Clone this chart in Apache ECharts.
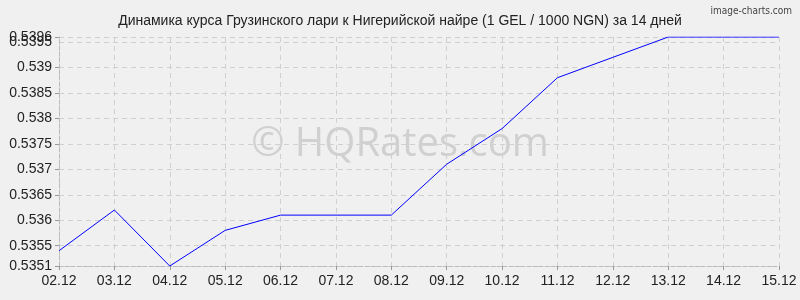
<!DOCTYPE html>
<html><head><meta charset="utf-8">
<script src="https://cdn.jsdelivr.net/npm/echarts@6/dist/echarts.min.js"></script>
<style>html,body{margin:0;padding:0;background:#f0f0f0}#c{width:800px;height:300px}</style>
</head><body><div id="c"></div>
<script>
const categories = ['02.12','03.12','04.12','05.12','06.12','07.12','08.12','09.12','10.12','11.12','12.12','13.12','14.12','15.12'];
const rates = [0.5354,0.5362,0.5351,0.5358,0.5361,0.5361,0.5361,0.5371,0.5378,0.5388,0.5392,0.5396,0.5396,0.5396];
const yTicks = [0.5351,0.5355,0.536,0.5365,0.537,0.5375,0.538,0.5385,0.539,0.5395,0.5396];
const yTicksOverlay = [0.5395];
const titleText = 'Динамика курса Грузинского лари к Нигерийской найре (1 GEL / 1000 NGN) за 14 дней';

const labelStyle = {color:'#222',fontSize:14,fontFamily:'Liberation Sans, Arial',margin:7,hideOverlap:false,showMinLabel:true,showMaxLabel:true};
const chart = echarts.init(document.getElementById('c'), null, {renderer:'canvas'});
chart.setOption({
  backgroundColor:'#f0f0f0',
  animation:false,
  title:[{text:titleText,left:'center',top:9,textStyle:{fontFamily:'Liberation Sans, Arial',fontSize:14,fontWeight:'normal',color:'#222'}},
         {text:'image-charts.com',right:3,top:1,textStyle:{fontFamily:'DejaVu Sans Condensed, Liberation Sans',fontSize:10,fontWeight:'normal',color:'#444'}}],
  graphic:[{type:'text',left:'center',top:125,silent:true,z:0,style:{text:'© HQRates.com',font:'40px "Open Sans", "Liberation Sans", Arial',fill:'rgba(160,160,160,0.4)'}}],
  grid:{left:59,right:21,top:37,bottom:34},
  xAxis:{type:'category',data:categories,boundaryGap:false,
    axisLine:{show:true,lineStyle:{color:'#bbb',type:'dashed',width:1}},
    axisTick:{show:true,length:4,lineStyle:{color:'#999'}},
    axisLabel:{color:'#222',fontSize:14,fontFamily:'Liberation Sans, Arial',margin:8,hideOverlap:false},
    splitLine:{show:true,lineStyle:{color:'#d0d0d0',type:[5,4]}}},
  yAxis:[{type:'value',min:0.5351,max:0.5396,position:'left',
    axisLine:{show:true,lineStyle:{color:'#bbb',type:'dashed',width:1}},
    axisTick:{show:true,length:4,customValues:yTicks,lineStyle:{color:'#999'}},
    axisLabel:Object.assign({customValues:yTicks},labelStyle),
    splitLine:{show:true,customValues:yTicks,lineStyle:{color:'#d0d0d0',type:[5,4]}}},
   {type:'value',min:0.5351,max:0.5396,position:'left',offset:0,
    axisLine:{show:false},
    axisTick:{show:false},
    axisLabel:Object.assign({customValues:yTicksOverlay},labelStyle,{showMinLabel:false}),
    splitLine:{show:false}}],
  series:[{type:'line',data:rates,symbol:'none',lineStyle:{color:'#0000ff',width:1},z:5}]
});
</script></body></html>
